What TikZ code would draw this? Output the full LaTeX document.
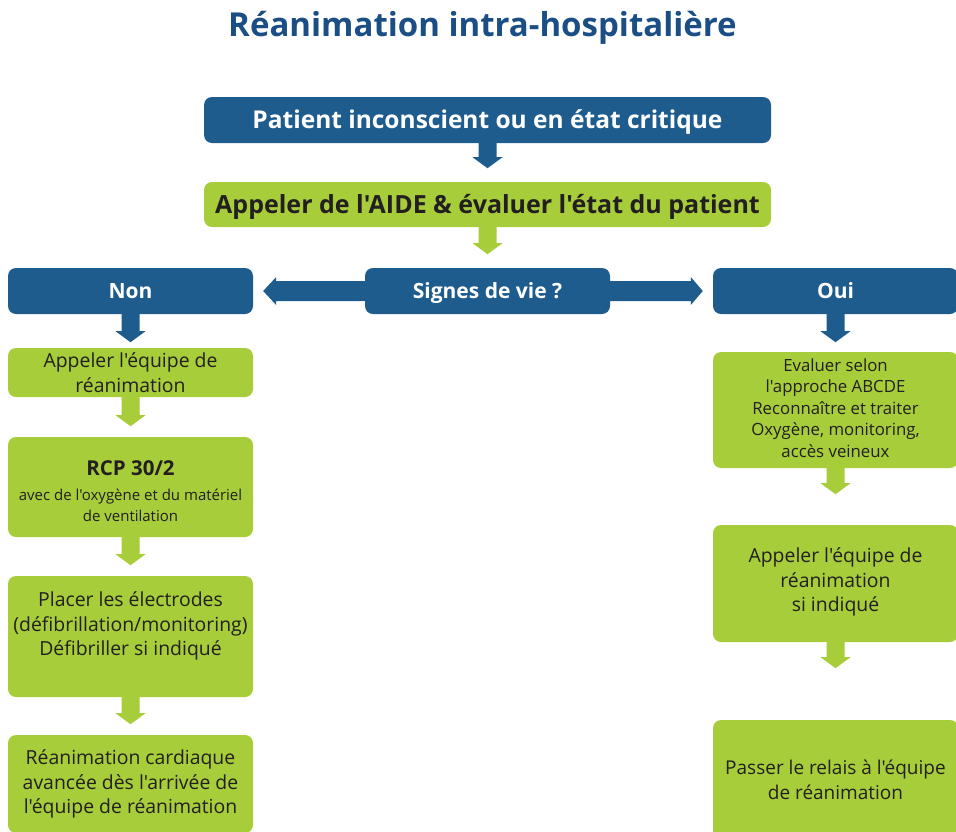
\documentclass[tikz,border=0pt]{standalone}
\usepackage{fontspec}
\newfontfamily\osans{Open Sans}
\usetikzlibrary{calc}
\definecolor{cblue}{HTML}{1F5C8E}
\definecolor{cgreen}{HTML}{A7CD3A}
\definecolor{ctitle}{HTML}{1A4E85}
\definecolor{ctext}{HTML}{231F20}

% vertical block arrow below a node: colour, node, shaft length
\newcommand{\arrdown}[3]{%
  \fill[#1] ($(#2.south)+(-9,0)$) -- ++(0,#3) -- ++(-6,0) -- ++(15,11)
    -- ++(15,-11) -- ++(-6,0) -- ++(0,-#3) -- cycle;}

\begin{document}
\osans
\begin{tikzpicture}[x=1pt,y=-1pt,
  bluebox/.style={fill=cblue, rounded corners=8pt, text=white,
    font=\bfseries\fontsize{21}{24}\selectfont, align=center, inner sep=0pt,
    text height=15pt, text depth=0pt},
  greenbox/.style={fill=cgreen, rounded corners=8pt, text=ctext,
    font=\fontsize{19.4}{24.5}\selectfont, align=center, inner sep=0pt},
  greentext/.style={text=ctext, font=\fontsize{19.4}{24.5}\selectfont, align=center, inner sep=0pt},
  colbox/.style={minimum width=245pt},
  widebox/.style={minimum width=567pt, text height=17.6pt, text depth=0pt}]
\useasboundingbox (0,0) rectangle (956,831);

\node[text=ctitle, anchor=base, inner sep=0pt, font=\bfseries\fontsize{33}{36}\selectfont] (title) at (482.5,36) {Réanimation intra-hospitalière};

\node[bluebox, widebox, minimum height=46pt, font=\bfseries\fontsize{24.5}{28}\selectfont] (start) at (487.5,120) {Patient inconscient ou en état critique};
\node[greenbox, widebox, minimum height=45pt, font=\bfseries\fontsize{25}{28}\selectfont] (help) at (487.5,204.5) {Appeler de l'AIDE \& évaluer l'état du patient};

\node[bluebox, colbox, minimum height=46pt] (signs) at (487.5,291) {Signes de vie ?};
\node[bluebox, colbox, minimum height=46pt] (no) at (130.5,291) {Non};
\node[bluebox, colbox, minimum height=46pt] (yes) at (835.5,291) {Oui};

% left column
\node[greenbox, colbox, minimum height=49pt] (call) at (130.5,372.5) {Appeler l'équipe de\\réanimation};
\node[greenbox, colbox, minimum height=100pt] (cpr) at (130.5,487) {};
\node[greentext, font=\fontsize{15}{21}\selectfont] (cprtext) at ($(cpr.center)+(0,4)$)
  {{\bfseries\fontsize{20.5}{24}\selectfont RCP 30/2}\\[4pt]avec de l'oxygène et du matériel\\de ventilation};
\node[greenbox, colbox, minimum height=121pt] (pads) at (130.5,636.5) {};
\node[greentext] (padstext) at ($(pads.center)+(0,-10.5)$)
  {Placer les électrodes\\(défibrillation/monitoring)\\Défibriller si indiqué};
\node[greenbox, colbox, minimum height=98pt] (als) at (130.5,784)
  {Réanimation cardiaque\\avancée dès l'arrivée de\\l'équipe de réanimation};

% right column
\node[greenbox, colbox, minimum height=116pt] (assess) at (835.5,410) {};
\node[greentext, font=\fontsize{16.8}{21.5}\selectfont] (assesstext) at ($(assess.center)+(0,-2)$)
  {Evaluer selon\\l'approche ABCDE\\Reconnaître et traiter\\Oxygène, monitoring,\\accès veineux};
\node[greenbox, colbox, minimum height=117pt] (callif) at (835.5,583.5) {};
\node[greentext] (callitext) at ($(callif.center)+(0,-1.5)$)
  {Appeler l'équipe de\\réanimation\\si indiqué};
\node[greenbox, colbox, minimum height=120pt, font=\fontsize{19}{24.5}\selectfont] (handover) at (835.5,780)
  {Passer le relais à l'équipe\\de réanimation};

% vertical arrows
\arrdown{cblue}{start}{14}
\arrdown{cgreen}{help}{16}
\arrdown{cblue}{no}{17}
\arrdown{cgreen}{call}{18}
\arrdown{cgreen}{cpr}{17}
\arrdown{cgreen}{pads}{16}
\arrdown{cblue}{yes}{17}
\arrdown{cgreen}{assess}{15}
\arrdown{cgreen}{callif}{15}

% horizontal arrows from the question to the two answers
\fill[cblue] ($(signs.west)+(0,-10)$) -- ($(no.east)+(23,-10)$) -- ++(0,-4) -- ++(-13,14)
  -- ++(13,14) -- ++(0,-4) -- ($(signs.west)+(0,10)$) -- cycle;
\fill[cblue] ($(signs.east)+(0,-10)$) -- ($(yes.west)+(-22,-10)$) -- ++(0,-4) -- ++(12,14)
  -- ++(-12,14) -- ++(0,-4) -- ($(signs.east)+(0,10)$) -- cycle;
\end{tikzpicture}
\end{document}
